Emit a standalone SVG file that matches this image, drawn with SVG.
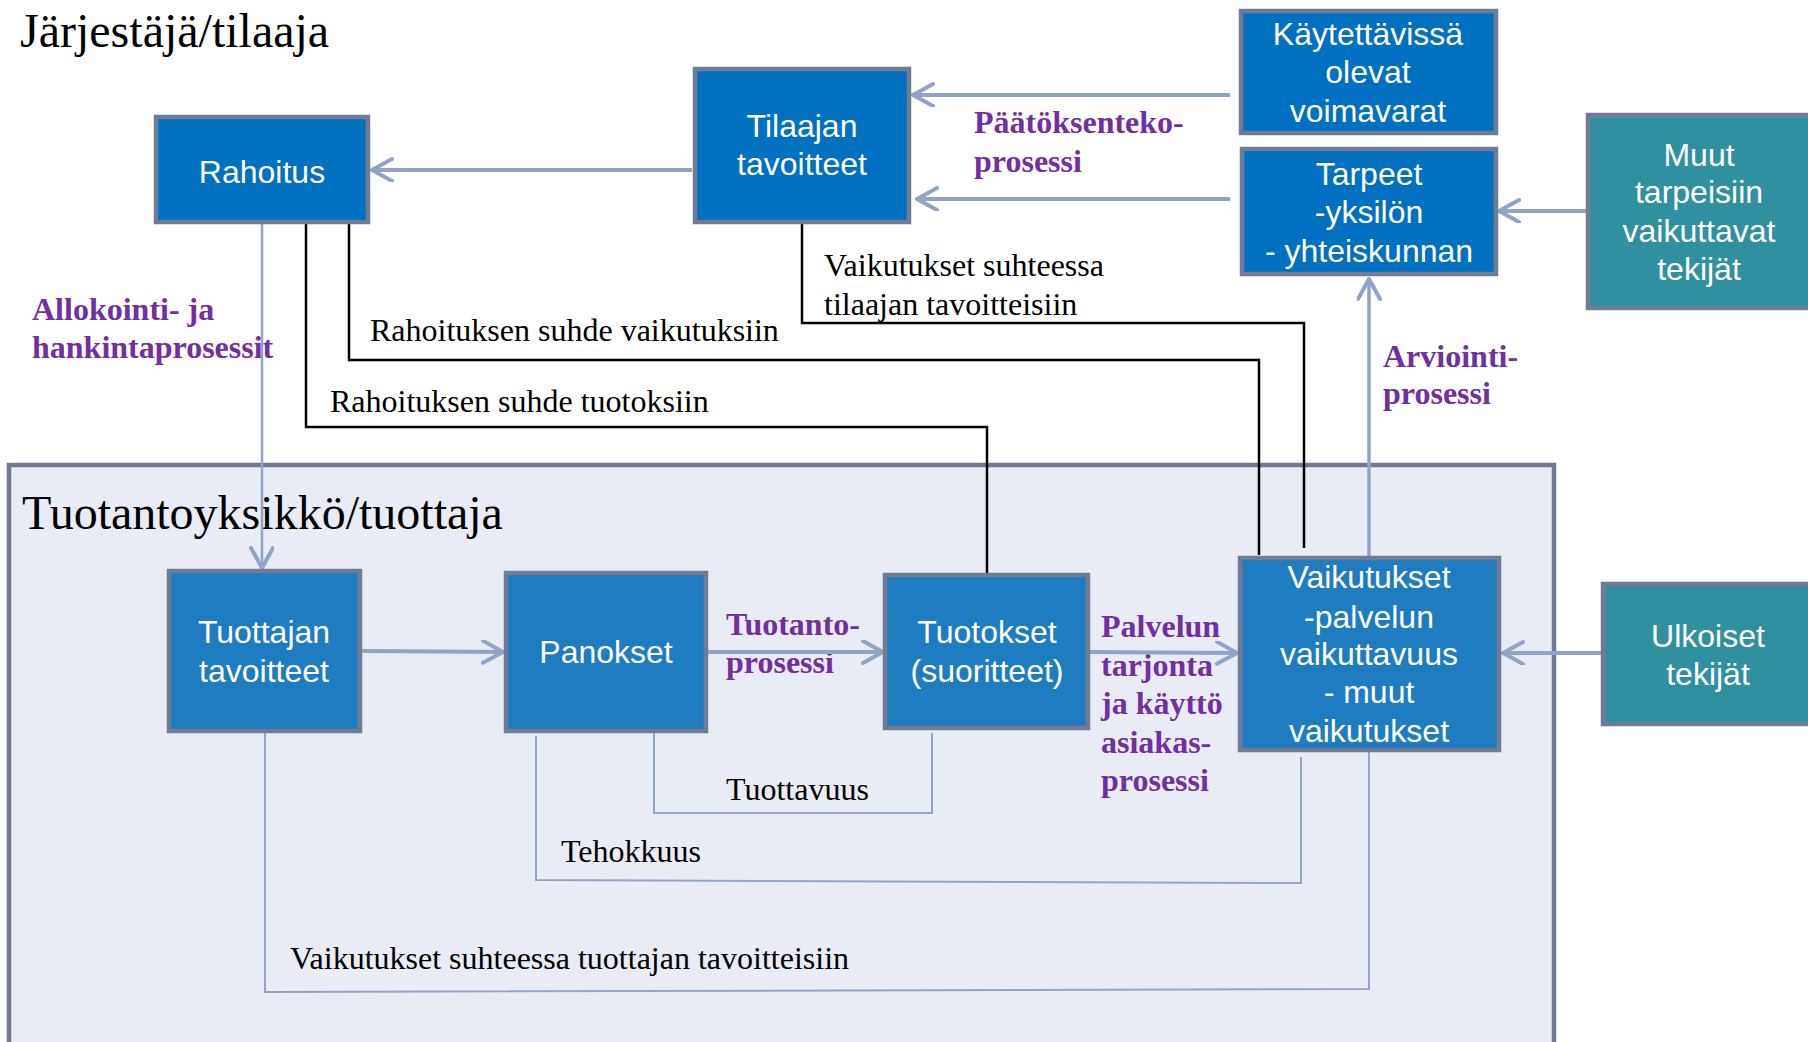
<svg xmlns="http://www.w3.org/2000/svg" width="1808" height="1042" viewBox="0 0 1808 1042">
<style>
.box{stroke:#707C93;stroke-width:4.5}
.top{fill:#0070C0}
.low{fill:#1F7CC1}
.teal{fill:#31909F}
.bt{font-family:"Liberation Sans",Arial,sans-serif;font-size:32px;fill:#FFFFFF;text-anchor:middle}
.lbl{font-family:"Liberation Serif","Times New Roman",serif;font-size:32px;fill:#000}
.pur{font-family:"Liberation Serif","Times New Roman",serif;font-size:32px;font-weight:bold;fill:#7030A0}
.title{font-family:"Liberation Serif","Times New Roman",serif;font-size:48px;fill:#000}
.arr{fill:none;stroke:#91A4C7;stroke-width:4;marker-end:url(#ah)}
.blk{fill:none;stroke:#000;stroke-width:2.5}
.thin{fill:none;stroke:#93A5C6;stroke-width:2}
</style>
<defs>
<marker id="ah" markerUnits="userSpaceOnUse" markerWidth="30" markerHeight="30" refX="22" refY="12" orient="auto">
<path d="M2,1 L22,12 L2,23" fill="none" stroke="#91A4C7" stroke-width="4" stroke-linecap="round" stroke-linejoin="round"/>
</marker>
</defs>
<rect width="1808" height="1042" fill="#FFFFFF"/>
<g id="area-tuotantoyksikko">
<rect x="9" y="465" width="1545" height="590" fill="#E9ECF4" stroke="#707B91" stroke-width="4.5"/>
</g>
<text class="title" x="20" y="47">Järjestäjä/tilaaja</text>
<text class="title" x="22" y="529">Tuotantoyksikkö/tuottaja</text>
<g id="labels">
<text class="lbl" x="824" y="276">Vaikutukset suhteessa</text>
<text class="lbl" x="824" y="315">tilaajan tavoitteisiin</text>
<text class="lbl" x="370" y="341">Rahoituksen suhde vaikutuksiin</text>
<text class="lbl" x="330" y="412">Rahoituksen suhde tuotoksiin</text>
<text class="lbl" x="726" y="800">Tuottavuus</text>
<text class="lbl" x="561" y="862">Tehokkuus</text>
<text class="lbl" x="290" y="969">Vaikutukset suhteessa tuottajan tavoitteisiin</text>
<text class="pur" x="974" y="133">Päätöksenteko-</text>
<text class="pur" x="974" y="172">prosessi</text>
<text class="pur" x="32" y="320">Allokointi- ja</text>
<text class="pur" x="32" y="358">hankintaprosessit</text>
<text class="pur" x="1383" y="367">Arviointi-</text>
<text class="pur" x="1383" y="404">prosessi</text>
<text class="pur" x="726" y="635">Tuotanto-</text>
<text class="pur" x="726" y="673">prosessi</text>
<text class="pur" x="1101" y="637">Palvelun</text>
<text class="pur" x="1101" y="676">tarjonta</text>
<text class="pur" x="1101" y="714">ja käyttö</text>
<text class="pur" x="1101" y="753">asiakas-</text>
<text class="pur" x="1101" y="791">prosessi</text>
</g>
<g id="connectors">
<path class="arr" d="M1230,95 L913,95"/>
<path class="arr" d="M1230,199 L917,199"/>
<path class="arr" d="M692,170 L372,170"/>
<path class="arr" d="M1586,211 L1499,211"/>
<path class="arr" style="stroke-width:2.5" d="M262,224 L262,568"/>
<path class="arr" style="stroke-width:3.5" d="M1369,556 L1369,279"/>
<path class="arr" d="M362,651 L503,652"/>
<path class="arr" d="M708,652 L883,652"/>
<path class="arr" d="M1090,652 L1237,653"/>
<path class="arr" d="M1601,653 L1503,653"/>
<path class="blk" d="M802,224 V323 H1304 V548"/>
<path class="blk" d="M349,224 V360 H1259 V555"/>
<path class="blk" d="M306,224 V427 H987 V573"/>
<path class="thin" d="M654,728 V813 H932 V733"/>
<path class="thin" d="M536,736 V880 L1301,883 V757"/>
<path class="thin" d="M265,732 V992 L1369,989 V750"/>
</g>
<g id="rahoitus">
<rect class="box top" x="156" y="117" width="212" height="105"/>
<text class="bt" x="262" y="183">Rahoitus</text>
</g>
<g id="tilaajan-tavoitteet">
<rect class="box top" x="695" y="69" width="214" height="153"/>
<text class="bt" x="802" y="137">Tilaajan</text>
<text class="bt" x="802" y="175">tavoitteet</text>
</g>
<g id="kaytettavissa">
<rect class="box top" x="1241" y="11" width="255" height="122"/>
<text class="bt" x="1368" y="45">Käytettävissä</text>
<text class="bt" x="1368" y="83">olevat</text>
<text class="bt" x="1368" y="122">voimavarat</text>
</g>
<g id="tarpeet">
<rect class="box top" x="1242" y="149" width="254" height="125"/>
<text class="bt" x="1369" y="185">Tarpeet</text>
<text class="bt" x="1369" y="223">-yksilön</text>
<text class="bt" x="1369" y="262">- yhteiskunnan</text>
</g>
<g id="muut-tekijat">
<rect class="box teal" x="1588" y="115" width="225" height="193"/>
<text class="bt" x="1699" y="166">Muut</text>
<text class="bt" x="1699" y="203">tarpeisiin</text>
<text class="bt" x="1699" y="242">vaikuttavat</text>
<text class="bt" x="1699" y="280">tekijät</text>
</g>
<g id="tuottajan-tavoitteet">
<rect class="box low" x="169" y="571" width="191" height="160"/>
<text class="bt" x="264" y="643">Tuottajan</text>
<text class="bt" x="264" y="682">tavoitteet</text>
</g>
<g id="panokset">
<rect class="box low" x="506" y="573" width="200" height="158"/>
<text class="bt" x="606" y="663">Panokset</text>
</g>
<g id="tuotokset">
<rect class="box low" x="885" y="575" width="203" height="153"/>
<text class="bt" x="987" y="643">Tuotokset</text>
<text class="bt" x="987" y="682">(suoritteet)</text>
</g>
<g id="vaikutukset">
<rect class="box low" x="1240" y="558" width="259" height="192"/>
<text class="bt" x="1369" y="588">Vaikutukset</text>
<text class="bt" x="1369" y="628">-palvelun</text>
<text class="bt" x="1369" y="665">vaikuttavuus</text>
<text class="bt" x="1369" y="703">- muut</text>
<text class="bt" x="1369" y="742">vaikutukset</text>
</g>
<g id="ulkoiset-tekijat">
<rect class="box teal" x="1603" y="584" width="213" height="140"/>
<text class="bt" x="1708" y="647">Ulkoiset</text>
<text class="bt" x="1708" y="685">tekijät</text>
</g>
</svg>
